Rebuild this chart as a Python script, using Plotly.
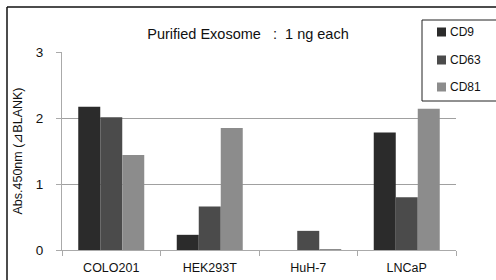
import plotly.graph_objects as go

categories = ["COLO201", "HEK293T", "HuH-7", "LNCaP"]
series_names = ["CD9", "CD63", "CD81"]
cd9 = [2.17, 0.23, 0.0, 1.78]
cd63 = [2.01, 0.66, 0.29, 0.80]
cd81 = [1.44, 1.85, 0.01, 2.14]
y_ticks = [0, 1, 2, 3]
colors = ["#2b2b2b", "#4b4b4b", "#8c8c8c"]

FONT = "Arial, Liberation Sans, sans-serif"
W, H = 496, 280
L, R, T, B = 62, 40, 52, 30
PW, PH = W - L - R, H - T - B


def px(x):
    return (x - L) / PW


def py(y):
    return (H - B - y) / PH


fig = go.Figure()
for i, (name, vals) in enumerate(zip(series_names, [cd9, cd63, cd81])):
    fig.add_trace(go.Bar(x=categories, y=vals, name=name, marker_color=colors[i],
                         marker_line_width=0, showlegend=False, hoverinfo="skip"))

shapes = [
    dict(type="line", xref="paper", yref="paper", x0=px(7), x1=px(W + 10),
         y0=py(7), y1=py(7), line=dict(color="#111", width=1.5)),
    dict(type="line", xref="paper", yref="paper", x0=px(7), x1=px(7),
         y0=py(7), y1=py(H + 10), line=dict(color="#111", width=1.5)),
    dict(type="rect", xref="paper", yref="paper", x0=px(422), x1=px(W + 10),
         y0=py(101), y1=py(20), line=dict(color="#222", width=1), fillcolor="white"),
]
annotations = []
legend_y = [32, 60, 87]
for i, name in enumerate(series_names):
    yc = legend_y[i]
    shapes.append(dict(type="rect", xref="paper", yref="paper", x0=px(437), x1=px(446),
                       y0=py(yc + 4.5), y1=py(yc - 4.5), line=dict(width=0),
                       fillcolor=colors[i]))
    annotations.append(dict(text=name, xref="paper", yref="paper", x=px(447.5), y=py(yc),
                            xanchor="left", yanchor="middle", showarrow=False,
                            font=dict(size=12, family=FONT, color="#111")))

fig.update_layout(
    width=W, height=H,
    margin=dict(l=L, r=R, t=T, b=B, autoexpand=False),
    paper_bgcolor="white", plot_bgcolor="white",
    barmode="group", bargap=0.33, bargroupgap=0,
    font=dict(family=FONT, size=12, color="#111"),
    title=dict(text="Purified Exosome \u00a0\u00a0:\u00a0\u00a01 ng each",
               x=0.5, xref="container",
               y=1 - 34 / H, yref="container", yanchor="middle", xanchor="center",
               font=dict(size=14.5, family=FONT, color="#111")),
    showlegend=False,
    xaxis=dict(showline=True, linecolor="#aaaaaa", linewidth=1,
               ticks="outside", ticklen=5, tickcolor="#aaaaaa",
               tickson="boundaries", showgrid=False,
               tickfont=dict(size=12.5, family=FONT, color="#111"),
               ticklabelstandoff=6),
    yaxis=dict(range=[0, 3], tickvals=y_ticks, showline=True, linecolor="#aaaaaa",
               linewidth=1, ticks="outside", ticklen=5, tickcolor="#aaaaaa",
               showgrid=True, gridcolor="#a0a0a0", gridwidth=1, zeroline=False,
               tickfont=dict(size=13.5, family=FONT, color="#111"),
               ticklabelstandoff=10,
               title=dict(text="Abs.450nm (\u22bfBLANK)", standoff=10,
                          font=dict(size=12.5, family=FONT, color="#111"))),
    shapes=shapes,
    annotations=annotations,
)
fig.write_html("out.html", config={"displayModeBar": False},
               post_script="document.body.style.margin='0';")
